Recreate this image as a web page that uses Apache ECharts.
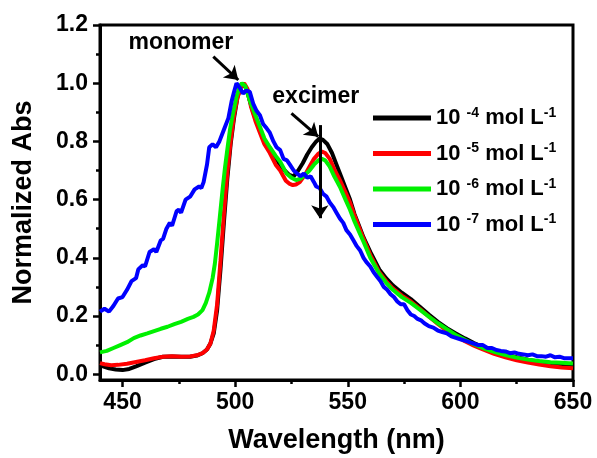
<!DOCTYPE html>
<html>
<head>
<meta charset="utf-8">
<script src="https://cdn.jsdelivr.net/npm/echarts@6/dist/echarts.min.js"></script>
<style>html,body{margin:0;padding:0;background:#fff}#c{width:597px;height:458px}</style>
</head>
<body>
<div id="c"></div>
<script>
var FONT = "'Liberation Sans', Arial, sans-serif";

var exps = ['-4', '-5', '-6', '-7'];
var colors = ['#000000', '#ff0000', '#00f000', '#0000ff'];

var xTicks = [450, 500, 550, 600, 650];
var xMinor = [475, 525, 575, 625];
var yTicks = [0, 0.2, 0.4, 0.6, 0.8, 1.0, 1.2];
var yMinor = [0.1, 0.3, 0.5, 0.7, 0.9, 1.1];

var blackX = [440,442,444,447,450,453,456,460,464,468,472,476,480,483,485.5,487.5,489,490.5,492,493.5,495,496.5,498,499.5,501,502.5,503.5,505,506.5,508,510,512,514,516,518,520,522,524,526,528,530,532,534,536,537.5,539,541,543,545,547,549,551,553,555,557,560,564,567,570,574,578,582,586,590,594,598,602,606,610,615,620,625,630,635,640,645,650];
var blackY = [0.031,0.025,0.02,0.016,0.014,0.018,0.027,0.04,0.052,0.06,0.061,0.06,0.06,0.064,0.072,0.085,0.105,0.14,0.22,0.36,0.52,0.67,0.79,0.88,0.95,0.99,1.0,0.98,0.94,0.9,0.86,0.82,0.79,0.76,0.74,0.72,0.70,0.685,0.68,0.70,0.725,0.755,0.78,0.80,0.81,0.805,0.79,0.76,0.72,0.68,0.64,0.60,0.55,0.51,0.47,0.42,0.36,0.33,0.305,0.28,0.258,0.232,0.205,0.18,0.158,0.14,0.123,0.107,0.093,0.08,0.068,0.058,0.05,0.043,0.038,0.034,0.031];

var redX = [440,442,445,448,452,456,460,464,468,472,476,480,483,485.5,487.5,489,490.5,492,493.5,495,496.5,498,499.5,501,502.5,504,505.5,507,509,511,513,515.4,518,520,522.5,524,525.6,527,528.7,531,533,535,537,538.5,540,542,544,546.5,549,551,553,555,557,560,564,567,570,574,578,582,586,590,594,598,602,606,610,615,620,625,630,635,640,645,650];
var redY = [0.038,0.034,0.031,0.032,0.036,0.042,0.048,0.055,0.06,0.062,0.06,0.061,0.065,0.072,0.085,0.105,0.15,0.24,0.39,0.55,0.69,0.8,0.89,0.95,0.985,1.0,0.98,0.92,0.87,0.83,0.79,0.76,0.72,0.70,0.665,0.655,0.65,0.652,0.66,0.685,0.713,0.74,0.758,0.765,0.76,0.74,0.705,0.667,0.625,0.59,0.545,0.505,0.465,0.41,0.35,0.32,0.295,0.27,0.25,0.225,0.198,0.173,0.15,0.13,0.113,0.098,0.085,0.07,0.058,0.048,0.04,0.033,0.027,0.023,0.02];

var greenX = [440,443,446,449,452,455,458,461,464,467,470,473,476,479,481.5,483.5,485.5,487,488.5,490,491,492,493.2,494.5,495.5,496.5,497.7,499,500.5,502,503,504.5,506.5,509,511,513,515.4,518,520,522.8,525,527,529,531,533,535,537,538.5,540,542,544,546.5,549,551,553,555,557,560,564,567,570,574,578,582,586,590,594,598,602,606,610,615,620,625,630,635,640,645,650];
var greenY = [0.075,0.08,0.09,0.1,0.11,0.124,0.133,0.14,0.148,0.156,0.163,0.172,0.18,0.19,0.197,0.205,0.22,0.245,0.28,0.33,0.38,0.45,0.54,0.64,0.71,0.77,0.84,0.895,0.95,0.99,1.0,0.99,0.94,0.89,0.85,0.81,0.78,0.75,0.73,0.69,0.675,0.667,0.672,0.685,0.70,0.72,0.735,0.74,0.735,0.713,0.68,0.644,0.60,0.565,0.525,0.49,0.455,0.40,0.345,0.315,0.29,0.265,0.245,0.222,0.198,0.175,0.155,0.135,0.118,0.103,0.09,0.077,0.066,0.057,0.05,0.045,0.041,0.039,0.037];

var blueX = [440,442,444,446,448,450,452,454,456,457,459,460,462,464,465,467,468,469.5,471,472,474,475,476,478,480,482,484,485,486,487.5,488.5,490,491.5,493,495,497,498.5,499.5,500.6,502,503.5,505,506.5,508,509.5,511,512.4,514,515.4,517,518.4,520,521.5,523,524.3,526,527.5,529,530.5,532,533.5,535,536,537.5,539,540.6,542,543.5,545,546.5,548,549.4,551,552.5,554,555.5,557,558.3,560,561.5,563,564.5,566,567.5,569,570.5,572,573.5,575,576.5,578,579.5,581,582.5,584,586,588,590,592,594,596,598,600,602,604,606,608,610,612,614,616,618,620,622,624,626,628,630,632,634,636,638,640,642,644,646,648,650];
var blueY = [0.215,0.225,0.215,0.235,0.26,0.265,0.29,0.32,0.33,0.36,0.375,0.37,0.42,0.43,0.42,0.46,0.465,0.50,0.52,0.51,0.56,0.565,0.555,0.6,0.61,0.635,0.645,0.64,0.66,0.72,0.78,0.79,0.78,0.8,0.84,0.88,0.94,0.97,1.0,0.985,0.965,0.975,0.97,0.93,0.905,0.89,0.86,0.845,0.83,0.8,0.78,0.77,0.74,0.735,0.72,0.70,0.69,0.68,0.69,0.675,0.68,0.66,0.645,0.64,0.62,0.61,0.59,0.575,0.555,0.535,0.52,0.495,0.48,0.46,0.44,0.425,0.40,0.385,0.37,0.35,0.335,0.32,0.30,0.29,0.275,0.265,0.25,0.24,0.24,0.22,0.205,0.2,0.19,0.185,0.175,0.165,0.16,0.15,0.145,0.14,0.13,0.125,0.12,0.115,0.11,0.105,0.1,0.1,0.09,0.09,0.083,0.08,0.078,0.072,0.075,0.07,0.068,0.065,0.068,0.062,0.062,0.06,0.065,0.058,0.06,0.055,0.055,0.055];

var monomerText = [475.9, 1.14];
var excimerText = [535.8, 0.955];
var monomerArrow = [[490.3, 1.091], [501.4, 1.011]];
var excimerArrow = [[525.0, 0.896], [536.9, 0.816]];
var downArrow = [[537.6, 0.856], [537.6, 0.536]];

function pairs(xs, ys) { return xs.map(function (x, i) { return [x, ys[i]]; }); }
var names = exps.map(function (e) { return '10 ' + e + ' mol L-1'; });
var allData = [pairs(blackX, blackY), pairs(redX, redY), pairs(greenX, greenY), pairs(blueX, blueY)];

var series = allData.map(function (d, i) {
  return {
    name: names[i], type: 'line', data: d, showSymbol: false, smooth: false,
    xAxisIndex: 0, yAxisIndex: 0,
    lineStyle: { color: colors[i], width: 4 }, itemStyle: { color: colors[i] },
    clip: true, silent: true
  };
});
var arrowStyle = { color: '#000', width: 3, type: 'solid' };
series[3].markLine = {
  silent: true, symbol: ['none', 'arrow'], symbolSize: 13, animation: false,
  label: { show: false }, lineStyle: arrowStyle, emphasis: { disabled: true },
  data: [
    [{ coord: monomerArrow[0] }, { coord: monomerArrow[1] }],
    [{ coord: excimerArrow[0] }, { coord: excimerArrow[1] }],
    [{ coord: downArrow[0] }, { coord: downArrow[1] }]
  ]
};
series[3].markPoint = {
  silent: true, symbol: 'rect', symbolSize: 1, animation: false,
  itemStyle: { color: 'rgba(0,0,0,0)' },
  label: { show: true, position: 'inside', formatter: '{b}', fontSize: 23, fontWeight: 'bold', color: '#000', fontFamily: FONT },
  data: [{ name: 'monomer', coord: monomerText }, { name: 'excimer', coord: excimerText }]
};

var labelStyle = { fontSize: 23, fontWeight: 'bold', color: '#000', fontFamily: FONT };
var nameStyle = { fontSize: 27, fontWeight: 'bold', color: '#000', fontFamily: FONT };
var tickStyle = { color: '#000', width: 2.5 };

var chart = echarts.init(document.getElementById('c'), null, { renderer: 'canvas' });
chart.setOption({
  animation: false,
  backgroundColor: '#fff',
  grid: { left: 100, right: 24, top: 25, bottom: 78, containLabel: false, outerBoundsMode: 'none', show: true, borderColor: '#000', borderWidth: 3, backgroundColor: 'rgba(0,0,0,0)' },
  legend: {
    left: 368, top: 101, orient: 'vertical', itemWidth: 58, itemHeight: 5, itemGap: 12.5,
    icon: 'rect', selectedMode: false,
    data: names.map(function (n, i) { return { name: n, itemStyle: { color: colors[i] } }; }),
    formatter: function (n) { var e = exps[names.indexOf(n)]; return '{b|10 }{s|' + e + '}{b| mol L}{s|-1}'; },
    textStyle: {
      rich: {
        b: { fontSize: 22, fontWeight: 'bold', color: '#000', fontFamily: FONT, lineHeight: 24 },
        s: { fontSize: 14, fontWeight: 'bold', color: '#000', fontFamily: FONT, lineHeight: 14, verticalAlign: 'top' }
      }
    }
  },
  xAxis: [
    {
      type: 'value', min: 440, max: 650, position: 'bottom', offset: 0,
      name: 'Wavelength (nm)', nameLocation: 'middle', nameGap: 47, nameTextStyle: nameStyle,
      axisLine: { show: true, onZero: false, lineStyle: { color: '#000', width: 3 } },
      axisTick: { show: true, customValues: xTicks, length: 7, lineStyle: tickStyle },
      axisLabel: Object.assign({ customValues: xTicks, margin: 11 }, labelStyle),
      splitLine: { show: false }
    },
    {
      type: 'value', min: 440, max: 650, position: 'bottom', offset: 0,
      axisLine: { show: false, onZero: false },
      axisTick: { show: true, customValues: xMinor, length: 4, lineStyle: tickStyle },
      axisLabel: { show: false }, splitLine: { show: false }
    }
  ],
  yAxis: [
    {
      type: 'value', min: -0.02, max: 1.2, position: 'left', offset: 0,
      name: 'Normalized Abs', nameLocation: 'middle', nameGap: 63, nameRotate: 90, nameTextStyle: nameStyle,
      axisLine: { show: true, onZero: false, lineStyle: { color: '#000', width: 3 } },
      axisTick: { show: true, customValues: yTicks, length: 7, lineStyle: tickStyle },
      axisLabel: Object.assign({ customValues: yTicks, margin: 12, formatter: function (v) { return v.toFixed(1); } }, labelStyle),
      splitLine: { show: false }
    },
    {
      type: 'value', min: -0.02, max: 1.2, position: 'left', offset: 0,
      axisLine: { show: false, onZero: false },
      axisTick: { show: true, customValues: yMinor, length: 4, lineStyle: tickStyle },
      axisLabel: { show: false }, splitLine: { show: false }
    }
  ],
  series: series
});
</script>
</body>
</html>
